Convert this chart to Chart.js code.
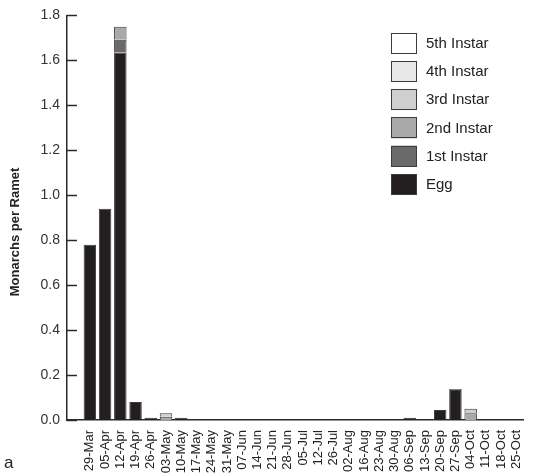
<!DOCTYPE html>
<html>
<head>
<meta charset="utf-8">
<script src="https://cdn.jsdelivr.net/npm/chart.js@4.4.1/dist/chart.umd.min.js"></script>
<style>
  html, body { margin: 0; padding: 0; background: #fff; }
  #grafica { display: block; }
</style>
</head>
<body>
<canvas id="grafica" width="534" height="476"></canvas>
<script>
// Fechas de muestreo (eje x)
var fechas = ["29-Mar", "05-Apr", "12-Apr", "19-Apr", "26-Apr", "03-May", "10-May", "17-May",
  "24-May", "31-May", "07-Jun", "14-Jun", "21-Jun", "28-Jun", "05-Jul", "12-Jul", "26-Jul",
  "02-Aug", "16-Aug", "23-Aug", "30-Aug", "06-Sep", "13-Sep", "20-Sep", "27-Sep", "04-Oct",
  "11-Oct", "18-Oct", "25-Oct"];

// Monarcas por ramet, por estadio
var huevo   = [0.78, 0.94, 1.635, 0.08, 0.01, 0, 0.01, 0.003, 0, 0, 0, 0, 0, 0, 0, 0, 0, 0, 0, 0, 0, 0.01, 0, 0.044, 0.134, 0, 0, 0, 0];
var estadio1 = [0, 0, 0.057, 0, 0, 0, 0, 0, 0, 0, 0, 0, 0, 0, 0, 0, 0, 0, 0, 0, 0, 0, 0, 0, 0.004, 0, 0, 0, 0];
var estadio2 = [0, 0, 0.057, 0, 0, 0.015, 0, 0, 0, 0, 0, 0, 0, 0, 0, 0, 0, 0, 0, 0, 0, 0, 0, 0, 0, 0.03, 0, 0, 0];
var estadio3 = [0, 0, 0, 0, 0, 0.015, 0, 0, 0, 0, 0, 0, 0, 0, 0, 0, 0, 0, 0, 0, 0, 0, 0, 0, 0, 0.02, 0, 0, 0];
var estadio4 = [0, 0, 0, 0, 0, 0, 0, 0, 0, 0, 0, 0, 0, 0, 0, 0, 0, 0, 0, 0, 0, 0, 0, 0, 0, 0, 0, 0, 0];
var estadio5 = [0, 0, 0, 0, 0, 0, 0, 0, 0, 0, 0, 0, 0, 0, 0, 0, 0, 0, 0, 0, 0, 0, 0, 0, 0, 0, 0, 0, 0];

var nombres = ["Egg", "1st Instar", "2nd Instar", "3rd Instar", "4th Instar", "5th Instar"];
var colores = ["#231f20", "#6a6a6a", "#a9a9a9", "#cfcfcf", "#e8e8e8", "#ffffff"];

var fuente = "'Liberation Sans', Arial, sans-serif";

// el eje deja un hueco antes de la primera fecha
function conHueco(arr) {
  return [null].concat(arr);
}

var series = [huevo, estadio1, estadio2, estadio3, estadio4, estadio5];
var datasets = series.map(function (s, i) {
  return {
    label: nombres[i],
    data: conHueco(s),
    backgroundColor: colores[i],
    borderColor: "#3c3c3c",
    borderWidth: 1,
    barPercentage: 0.82,
    categoryPercentage: 1.0,
  };
});

// Marcas del eje y hacia dentro, titulo del eje, leyenda y etiqueta "a"
var extras = {
  id: "extras",
  afterDraw: function (chart) {
    var ctx = chart.ctx;
    var y = chart.scales.y;
    var area = chart.chartArea;
    ctx.save();
    ctx.strokeStyle = "#2a2a2a";
    ctx.lineWidth = 1.5;
    y.ticks.forEach(function (t) {
      var py = Math.round(y.getPixelForValue(t.value)) + 0.5;
      ctx.beginPath();
      ctx.moveTo(area.left, py);
      ctx.lineTo(area.left + 10, py);
      ctx.stroke();
    });

    // titulo del eje y
    ctx.save();
    ctx.translate(15, 232);
    ctx.rotate(-Math.PI / 2);
    ctx.font = "bold 13px " + fuente;
    ctx.fillStyle = "#222";
    ctx.textAlign = "center";
    ctx.textBaseline = "middle";
    ctx.fillText("Monarchs per Ramet", 0, 0);
    ctx.restore();

    // leyenda (de arriba hacia abajo: 5th ... Egg)
    ctx.font = "15px " + fuente;
    ctx.textBaseline = "middle";
    ctx.textAlign = "left";
    for (var k = 0; k < nombres.length; k++) {
      var idx = nombres.length - 1 - k;
      var top = 32.5 + k * 28.3;
      ctx.fillStyle = colores[idx];
      ctx.fillRect(391, top, 26, 21);
      ctx.strokeStyle = "#3c3c3c";
      ctx.lineWidth = 1;
      ctx.strokeRect(391.5, Math.round(top) + 0.5, 25, 20);
      ctx.fillStyle = "#222";
      ctx.fillText(nombres[idx], 426, top + 11);
    }

    ctx.font = "17px " + fuente;
    ctx.fillStyle = "#222";
    ctx.fillText("a", 4, 463);
    ctx.restore();
  }
};

var grafica = new Chart(document.getElementById("grafica"), {
  type: "bar",
  data: {
    labels: conHueco(fechas).map(function (f) { return f === null ? "" : f; }),
    datasets: datasets,
  },
  options: {
    responsive: false,
    animation: false,
    layout: { padding: { left: 0, right: 2, top: 13, bottom: 0 } },
    plugins: {
      legend: { display: false },
      tooltip: { enabled: false },
    },
    scales: {
      x: {
        stacked: true,
        grid: { display: false },
        border: { display: true, color: "#2a2a2a", width: 1.5 },
        ticks: {
          autoSkip: false,
          minRotation: 90,
          maxRotation: 90,
          padding: 2,
          color: "#222",
          font: { family: fuente, size: 13 },
        },
        afterFit: function (scale) { scale.height = 56; },
      },
      y: {
        stacked: true,
        min: 0,
        max: 1.8,
        grid: { display: false, drawTicks: false, tickLength: 0 },
        border: { display: true, color: "#2a2a2a", width: 1.5 },
        ticks: {
          stepSize: 0.2,
          padding: 7,
          color: "#333",
          font: { family: fuente, size: 14 },
          callback: function (v) { return Number(v).toFixed(1); },
        },
        afterFit: function (scale) { scale.width = 67; },
      },
    },
  },
  plugins: [extras],
});
</script>
</body>
</html>
